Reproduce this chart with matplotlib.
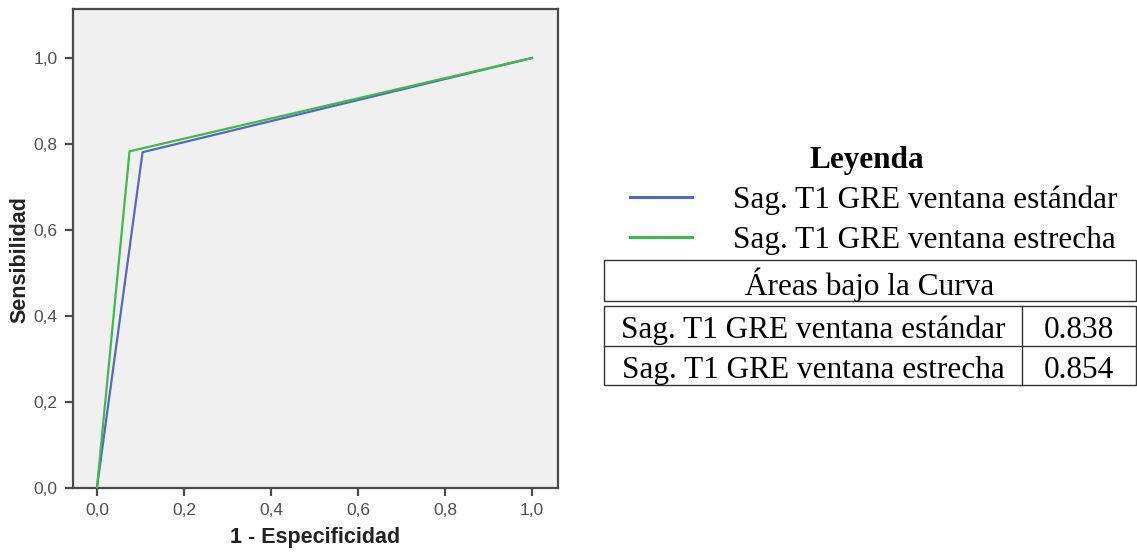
import matplotlib.pyplot as plt
from matplotlib.lines import Line2D

# ROC curves (single cut-off each): 1 - especificidad vs sensibilidad
fpr_estandar = [0.0, 0.105, 1.0]
sens_estandar = [0.0, 0.781, 1.0]
fpr_estrecha = [0.0, 0.075, 1.0]
sens_estrecha = [0.0, 0.783, 1.0]

series_names = ["Sag. T1 GRE ventana estándar", "Sag. T1 GRE ventana estrecha"]
series_colors = ["#5468c2", "#3dbb4c"]
auc_values = ["0.838", "0.854"]

tick_values = [0.0, 0.2, 0.4, 0.6, 0.8, 1.0]
tick_labels = ["0,0", "0,2", "0,4", "0,6", "0,8", "1,0"]

W, H = 1137, 554
fig = plt.figure(figsize=(W / 100, H / 100), dpi=100)

ax = fig.add_axes([73 / W, 1 - 488 / H, 485 / W, 479 / H])
ax.set_facecolor("#f0f0f0")
ax.plot(fpr_estandar, sens_estandar, color=series_colors[0], lw=1.6, zorder=3)
ax.plot(fpr_estrecha, sens_estrecha, color=series_colors[1], lw=1.6, zorder=3)
ax.set_xlim(-0.055, 1.06)
ax.set_ylim(0.0, 1.114)
ax.set_xticks(tick_values)
ax.set_xticklabels(tick_labels)
ax.set_yticks(tick_values)
ax.set_yticklabels(tick_labels)
for s in ax.spines.values():
    s.set_color("#4a4a4a")
    s.set_linewidth(1.6)
ax.tick_params(direction="out", length=6, width=1.6, color="#4a4a4a",
               labelsize=12.5, labelcolor="#505050", pad=5)
for lbl in ax.get_xticklabels() + ax.get_yticklabels():
    lbl.set_family("Liberation Sans")
ax.set_xlabel("1 - Especificidad", fontsize=15.5, fontweight="bold",
              family="Liberation Sans", color="#222222", va="center")
ax.set_ylabel("Sensibilidad", fontsize=15.5, fontweight="bold",
              family="Liberation Sans", color="#222222", va="center")
ax.xaxis.set_label_coords(0.5, -0.104)
ax.yaxis.set_label_coords(-0.109, 0.476)

# legend and AUC table, laid out in pixel units
ov = fig.add_axes([0, 0, 1, 1])
ov.set_xlim(0, W)
ov.set_ylim(H, 0)
ov.axis("off")

serif = "Liberation Serif"
fs = 22.5
ov.text(867, 157, "Leyenda", ha="center", va="center_baseline", fontsize=fs,
        fontweight="bold", family=serif)
for i, (name, col) in enumerate(zip(series_names, series_colors)):
    y = 197 + 40 * i
    ov.add_line(Line2D([630, 692], [y, y], color=col, lw=2.2))
    ov.text(733, y, name, ha="left", va="center_baseline", fontsize=fs, family=serif)

bc = "#333333"
left, right, mid = 604, 1136, 1022
# header box
ov.add_patch(plt.Rectangle((left, 260), right - left, 41, fill=False, ec=bc, lw=1.0))
ov.text((left + right) / 2, 281, "Áreas bajo la Curva", ha="center",
        va="center_baseline", fontsize=fs, family=serif)
# value rows
ov.add_patch(plt.Rectangle((left, 306), right - left, 79, fill=False, ec=bc, lw=1.0))
ov.add_line(Line2D([left, right], [346, 346], color=bc, lw=1.0))
ov.add_line(Line2D([mid, mid], [306, 385], color=bc, lw=1.0))
for i, (name, val) in enumerate(zip(series_names, auc_values)):
    yc = 327 + 40 * i
    ov.text((left + mid) / 2, yc, name, ha="center", va="center_baseline",
            fontsize=fs, family=serif)
    ov.text((mid + right) / 2, yc, val, ha="center", va="center_baseline",
            fontsize=fs, family=serif)

fig.savefig("out.png", dpi=100)
